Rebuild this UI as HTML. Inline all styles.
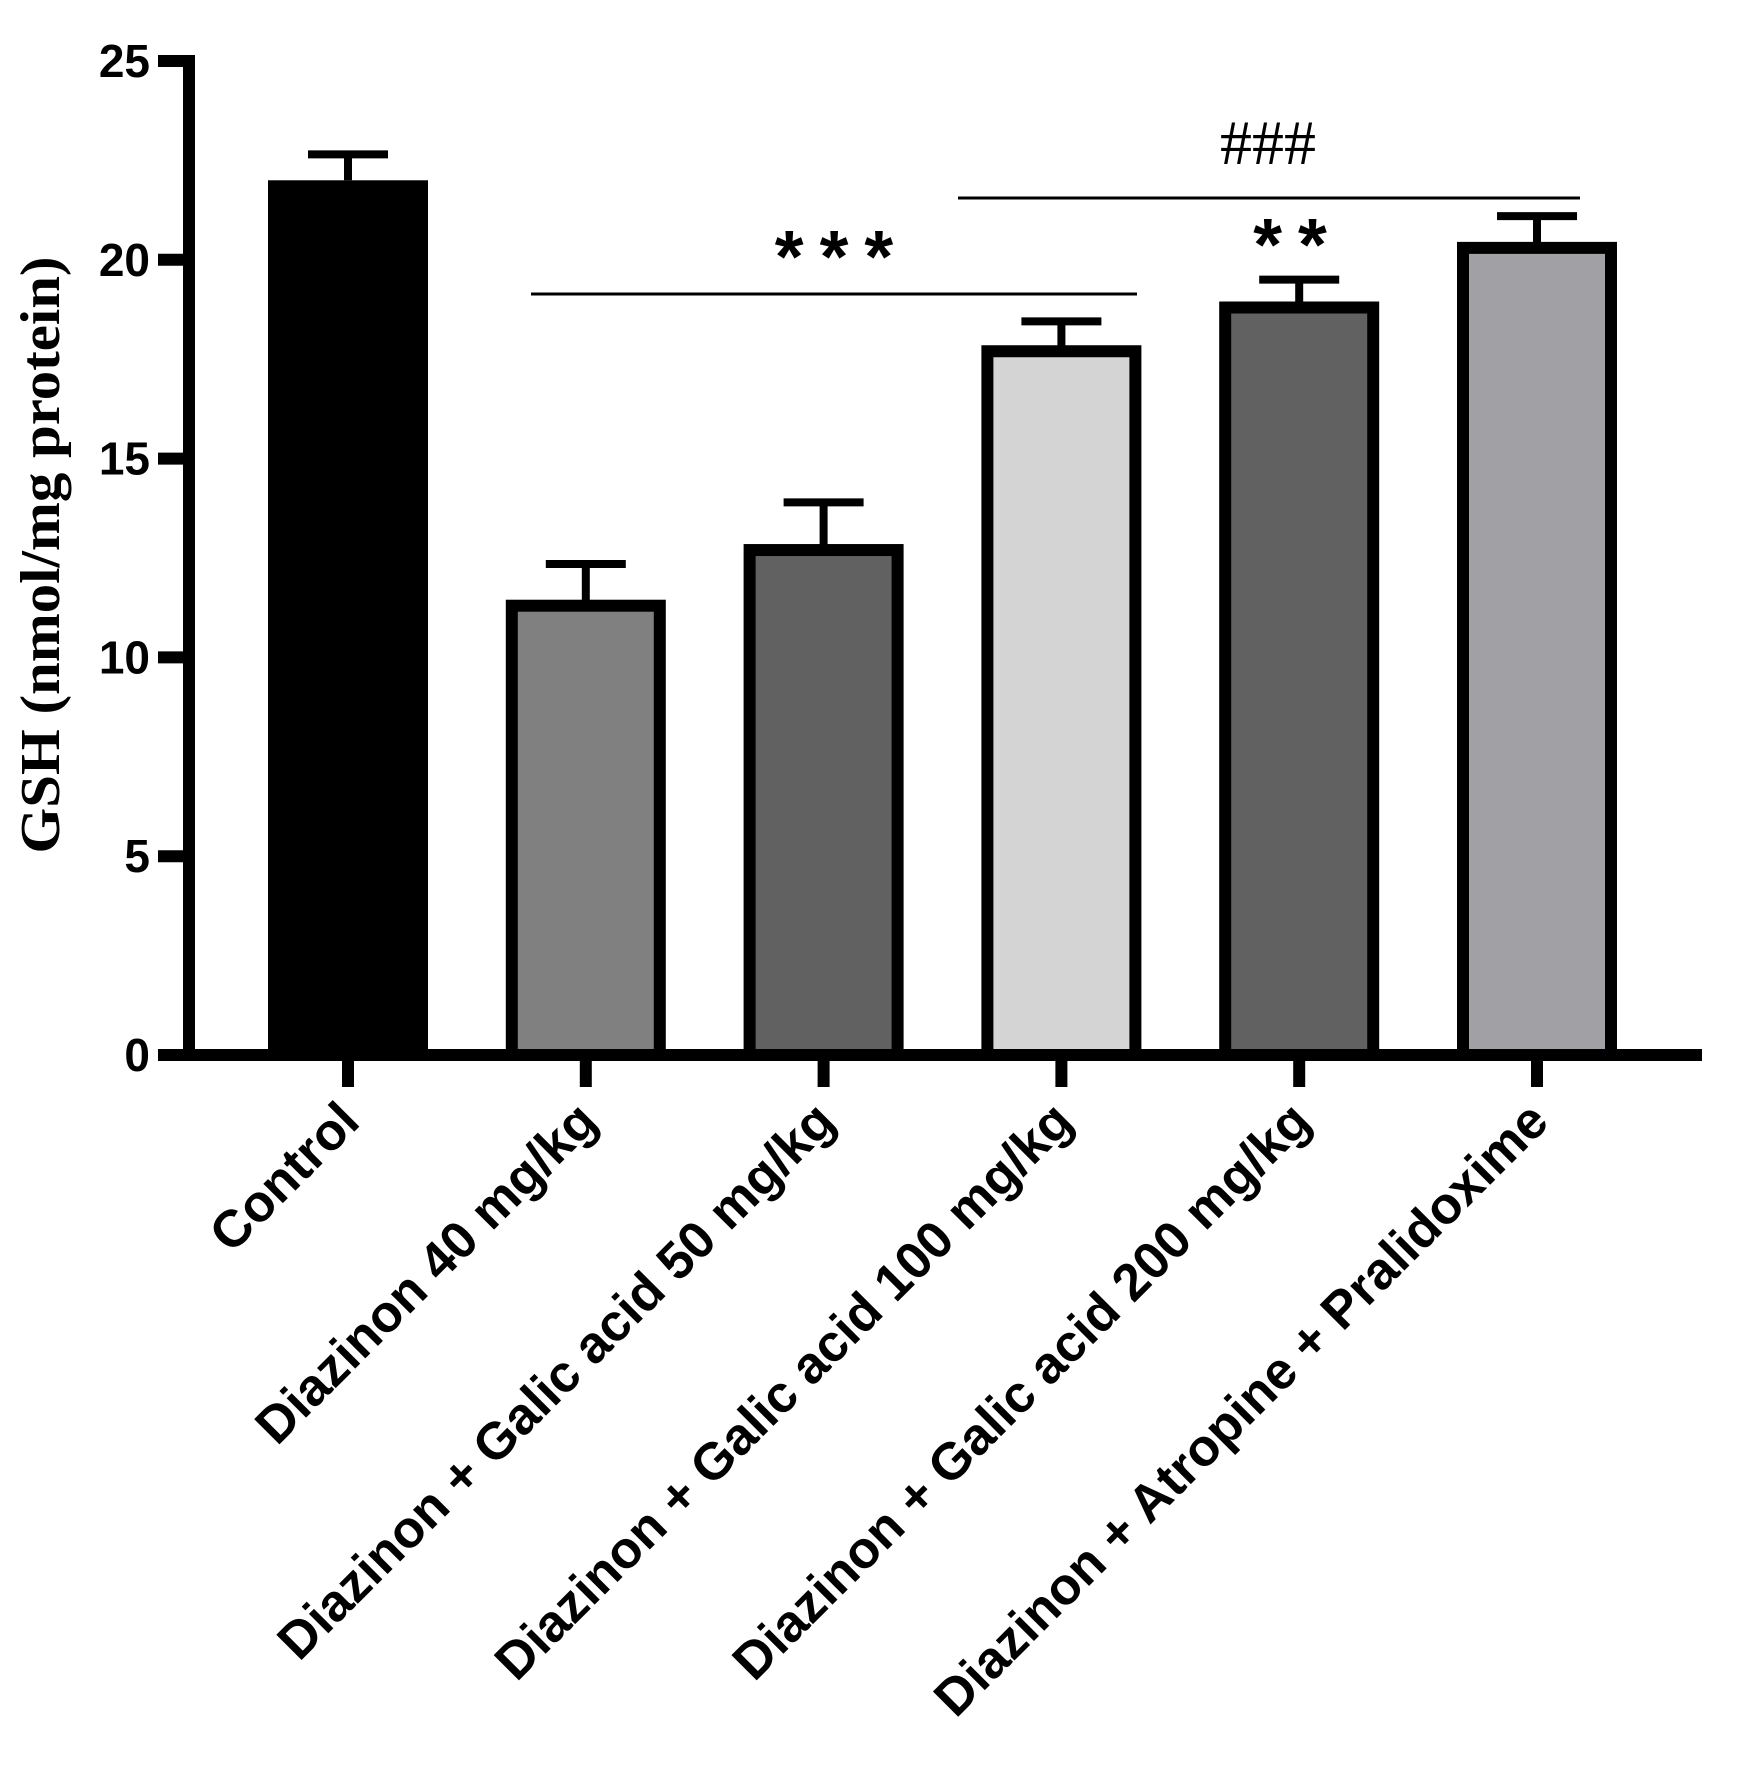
<!DOCTYPE html>
<html><head><meta charset="utf-8"><style>
html,body{margin:0;padding:0;background:#fff;}
svg{display:block;}
</style></head><body>
<svg id="chart" xmlns="http://www.w3.org/2000/svg" width="1739" height="1768" viewBox="0 0 1739 1768">
<g id="axes"></g>
<g id="bars"></g>
<g id="labels"></g>
<text transform="translate(59,555) rotate(-90)" text-anchor="middle" font-family="Liberation Serif, serif" font-weight="bold" font-size="56" textLength="597" lengthAdjust="spacingAndGlyphs">GSH (nmol/mg protein)</text>
<line x1="531" y1="294" x2="1137" y2="294" stroke="#000" stroke-width="3"/>
<line x1="958" y1="198" x2="1580" y2="198" stroke="#000" stroke-width="3"/>
<text x="842" y="282" text-anchor="middle" font-family="Liberation Sans, sans-serif" font-weight="bold" font-size="74" letter-spacing="16">***</text>
<text x="1298" y="270" text-anchor="middle" font-family="Liberation Sans, sans-serif" font-weight="bold" font-size="74" letter-spacing="16">**</text>
<text x="1268" y="164" text-anchor="middle" font-family="Liberation Serif, serif" font-size="64">###</text>
</svg>
<script>
const categories = ["Control","Diazinon 40 mg/kg","Diazinon + Galic acid 50 mg/kg","Diazinon + Galic acid 100 mg/kg","Diazinon + Galic acid 200 mg/kg","Diazinon + Atropine + Pralidoxime"];
const values = [22.0, 11.3, 12.7, 17.7, 18.8, 20.3];
const errors = [0.65, 1.05, 1.2, 0.75, 0.7, 0.8];
const fills = ["#000000","#808080","#616161","#d4d4d4","#616161","#a1a1a5"];
const yTicks = [0,5,10,15,20,25];

const NS = "http://www.w3.org/2000/svg";
const y0 = 1055, pxPerUnit = 39.76;
function yScale(v){ return y0 - v*pxPerUnit; }
const x0 = 348, step = 237.8;
function xScale(i){ return x0 + i*step; }
function mk(tag, attrs, parent){
  const e = document.createElementNS(NS, tag);
  for (const k in attrs) e.setAttribute(k, attrs[k]);
  parent.appendChild(e); return e;
}
const axes = document.getElementById('axes');
const bars = document.getElementById('bars');
const labels = document.getElementById('labels');

let l = mk('line',{x1:189,y1:yScale(25)-6,x2:189,y2:y0+6,stroke:'#000','stroke-width':12},axes);


l = mk('line',{x1:183,y1:y0,x2:1702,y2:y0,stroke:'#000','stroke-width':12},axes);



yTicks.forEach(t=>{
  const y = yScale(t);
  const tk = mk('line',{x1:158,y1:y,x2:189,y2:y,stroke:'#000','stroke-width':12},axes);
  
  
  const tx = mk('text',{x:150,y:y+16,'text-anchor':'end','font-family':'Liberation Sans, sans-serif','font-weight':'bold','font-size':46},axes);
  tx.textContent = t;
  
  
});

categories.forEach((c,i)=>{
  const cx = xScale(i);
  const v = values[i], e = errors[i];
  const top = yScale(v);
  const eb = mk('line',{x1:cx,y1:yScale(v+e),x2:cx,y2:top,stroke:'#000','stroke-width':8},bars);
  
  
  const cap = mk('line',{x1:cx-40,y1:yScale(v+e),x2:cx+40,y2:yScale(v+e),stroke:'#000','stroke-width':8},bars);
  
  
  let r;
  if (i===0){
    r = mk('rect',{x:cx-80,y:top,width:160,height:y0-top,fill:fills[i]},bars);
  } else {
    r = mk('rect',{x:cx-74,y:top,width:148,height:y0-top,fill:fills[i],stroke:'#000','stroke-width':12},bars);
  }
  
  
  const tk = mk('line',{x1:cx,y1:y0,x2:cx,y2:1087,stroke:'#000','stroke-width':12},axes);
  
  
  const tx = mk('text',{transform:'translate('+(cx+14)+',1124) rotate(-45)','text-anchor':'end','font-family':'Liberation Sans, sans-serif','font-weight':'bold','font-size':52},labels);
  tx.textContent = c;
  
  
});
</script>
</body></html>
